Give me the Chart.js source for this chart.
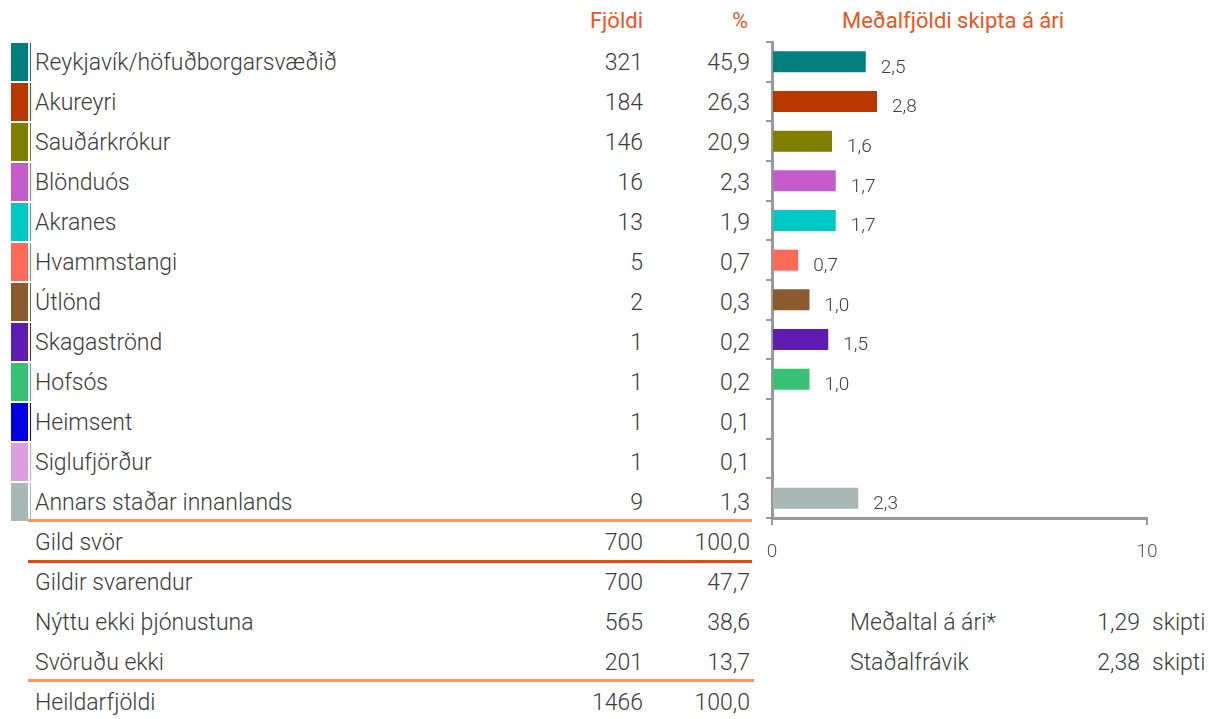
<!DOCTYPE html>
<html lang="is">
<head>
<meta charset="UTF-8" />
<title>Meðalfjöldi skipta á ári</title>
<script src="https://cdn.jsdelivr.net/npm/chart.js"></script>
<style>
    body {
        margin: 0;
        width: 1209px;
        height: 719px;
        background: #fff;
        font-family: 'Roboto', Arial, sans-serif;
        font-weight: 300;
        color: #3c3c3c;
        position: relative;
        overflow: hidden;
    }
    .abs { position: absolute; white-space: nowrap; }
    .head { color: #e8561e; font-size: 22px; font-weight: 400; line-height: 40px; top: 1px; }
    .row { position: absolute; left: 0; width: 760px; height: 40px; line-height: 40px; font-size: 23px; }
    .row .lbl { position: absolute; left: 35px; top: 2px; }
    .row .n { position: absolute; right: 117px; top: 2px; }
    .row .p { position: absolute; right: 10px; top: 2px; }
    .sw { position: absolute; left: 11px; top: 2px; width: 20px; height: 38px; }
    .rule { position: absolute; left: 28px; height: 3px; }
    #chartBox { position: absolute; left: 700px; top: 0; width: 509px; height: 719px; }
</style>
</head>
<body>

<div class="abs head" style="right:566px">Fjöldi</div>
<div class="abs head" style="right:461px">%</div>
<div class="abs head" style="left:842px">Meðalfjöldi skipta á ári</div>

<div id="table"></div>

<div id="chartBox"><canvas id="chart"></canvas></div>

<script>
const places = ['Reykjavík/höfuðborgarsvæðið', 'Akureyri', 'Sauðárkrókur', 'Blönduós', 'Akranes',
    'Hvammstangi', 'Útlönd', 'Skagaströnd', 'Hofsós', 'Heimsent', 'Siglufjörður', 'Annars staðar innanlands'];
const counts = [321, 184, 146, 16, 13, 5, 2, 1, 1, 1, 1, 9];
const percents = ['45,9', '26,3', '20,9', '2,3', '1,9', '0,7', '0,3', '0,2', '0,2', '0,1', '0,1', '1,3'];
const avgTrips = [2.5, 2.8, 1.6, 1.7, 1.7, 0.7, 1.0, 1.5, 1.0, null, null, 2.3];
const colors = ['#007f7f', '#b83800', '#808000', '#c45ccc', '#00c8c6', '#ff6a58',
    '#8b5a2e', '#5f1cb0', '#38c174', '#0000e0', '#dca0e0', '#a8b8b4'];

const summaryLabels = ['Gild svör', 'Gildir svarendur', 'Nýttu ekki þjónustuna', 'Svöruðu ekki', 'Heildarfjöldi'];
const summaryCounts = [700, 700, 565, 201, 1466];
const summaryPercents = ['100,0', '47,7', '38,6', '13,7', '100,0'];

const statLabels = ['Meðaltal á ári*', 'Staðalfrávik'];
const statValues = ['1,29', '2,38'];

// table on the left
const table = document.getElementById('table');
let html = '';
places.forEach((p, i) => {
    const c = colors[i];
    html += `<div class="row" style="top:${41 + i * 40}px">
        <div class="sw" style="background:linear-gradient(to right, ${c} 0 17px, #fff 17px 19px, ${c} 19px 20px)"></div>
        <span class="lbl">${p}</span><span class="n">${counts[i]}</span><span class="p">${percents[i]}</span></div>`;
});
const summaryTops = [521, 561, 601, 641, 681];
summaryLabels.forEach((s, i) => {
    html += `<div class="row" style="top:${summaryTops[i]}px">
        <span class="lbl">${s}</span><span class="n">${summaryCounts[i]}</span><span class="p">${summaryPercents[i]}</span></div>`;
});
html += '<div class="rule" style="top:519px;width:724px;background:#ff9466"></div>';
html += '<div class="rule" style="top:560px;width:724px;background:#e8480c"></div>';
html += '<div class="rule" style="top:679px;width:726px;background:#ff9466"></div>';
statLabels.forEach((s, i) => {
    const top = 603 + i * 40;
    html += `<div class="abs" style="left:850px;top:${top}px;line-height:40px;font-size:23px">${s}</div>`;
    html += `<div class="abs" style="right:69px;top:${top}px;line-height:40px;font-size:23px">${statValues[i]}</div>`;
    html += `<div class="abs" style="left:1152px;top:${top}px;line-height:40px;font-size:23px">skipti</div>`;
});
table.innerHTML = html;

// value labels next to bars
const barLabels = {
    id: 'barLabels',
    afterDatasetsDraw(chart) {
        const ctx = chart.ctx;
        const meta = chart.getDatasetMeta(0);
        ctx.save();
        ctx.font = "300 19px Roboto, sans-serif";
        ctx.fillStyle = '#404040';
        ctx.textBaseline = 'middle';
        meta.data.forEach((bar, i) => {
            const v = avgTrips[i];
            if (v == null) return;
            ctx.fillText(v.toFixed(1).replace('.', ','), bar.x + 15, bar.y + 6);
        });
        ctx.restore();
    }
};

new Chart(document.getElementById('chart'), {
    type: 'bar',
    data: {
        labels: places,
        datasets: [{
            data: avgTrips,
            backgroundColor: colors,
            barPercentage: 0.53,
            categoryPercentage: 1
        }]
    },
    options: {
        indexAxis: 'y',
        responsive: true,
        maintainAspectRatio: false,
        animation: false,
        layout: { padding: { left: 0, top: 42, right: 62, bottom: 151 } },
        plugins: { legend: { display: false }, tooltip: { enabled: false } },
        scales: {
            y: {
                afterFit: (scale) => { scale.width = 72; },
                ticks: { display: false },
                grid: { drawOnChartArea: false, color: '#999', lineWidth: 2, tickLength: 6, offset: true },
                border: { color: '#999', width: 3 }
            },
            x: {
                min: 0,
                max: 10,
                afterFit: (scale) => { scale.height = 50; },
                ticks: {
                    stepSize: 10,
                    padding: 16,
                    color: '#555',
                    font: { family: 'Roboto, sans-serif', size: 19, weight: '300' }
                },
                grid: { drawOnChartArea: false, color: '#999', lineWidth: 2, tickLength: 7 },
                border: { color: '#999', width: 3 }
            }
        }
    },
    plugins: [barLabels]
});
</script>
</body>
</html>
